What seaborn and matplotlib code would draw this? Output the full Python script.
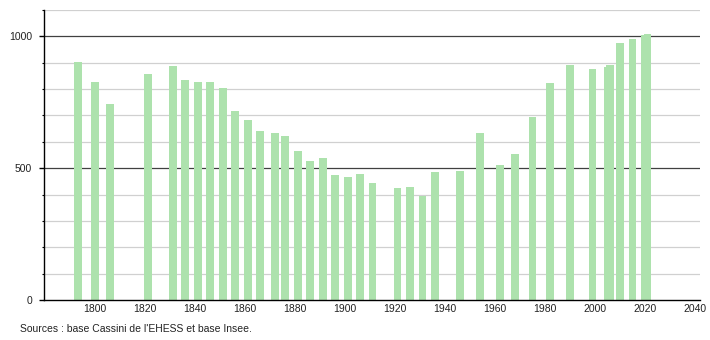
import matplotlib
matplotlib.use("Agg")
import matplotlib.pyplot as plt
from matplotlib.ticker import MultipleLocator, FixedLocator
import seaborn as sns
import pandas as pd

years = [1793, 1800, 1806, 1821, 1831, 1836, 1841, 1846, 1851, 1856,
         1861, 1866, 1872, 1876, 1881, 1886, 1891, 1896, 1901, 1906,
         1911, 1921, 1926, 1931, 1936, 1946, 1954, 1962, 1968, 1975,
         1982, 1990, 1999, 2005, 2006, 2010, 2015, 2020, 2021]
population = [901, 826, 742, 856, 886, 834, 827, 827, 804, 717,
              682, 642, 632, 622, 565, 529, 537, 473, 468, 478,
              444, 426, 428, 393, 487, 491, 632, 511, 552, 693,
              825, 891, 876, 884, 892, 976, 991, 1004, 1008]
y_major = [0, 500, 1000]
x_ticks = [1800, 1820, 1840, 1860, 1880, 1900, 1920, 1940, 1960, 1980, 2000, 2020, 2040]
source_text = "Sources : base Cassini de l'EHESS et base Insee."

df = pd.DataFrame({"year": years, "population": population})

sns.set_theme(style="white")
plt.rcParams["font.family"] = ["Liberation Sans", "DejaVu Sans"]

fig = plt.figure(figsize=(7.1, 3.4), dpi=100)
ax = fig.add_axes([44 / 710, 40 / 340, 656 / 710, 290 / 340])

bar_color = "#ade2ad"
sns.barplot(data=df, x="year", y="population", native_scale=True, width=3.1,
            color=bar_color, saturation=1, linewidth=0, errorbar=None, ax=ax, zorder=2)

# gridlines
for v in range(100, 1101, 100):
    if v in (500, 1000):
        ax.axhline(v, color="#404040", lw=0.9, zorder=1)
    else:
        ax.axhline(v, color="#d0d0d0", lw=0.9, zorder=1)

ax.set_xlim(1779.5, 2042)
ax.set_ylim(0, 1100)

ax.yaxis.set_major_locator(FixedLocator(y_major))
ax.yaxis.set_minor_locator(MultipleLocator(100))
ax.set_yticklabels([str(v) for v in y_major])
ax.xaxis.set_major_locator(FixedLocator(x_ticks))
ax.set_xticklabels([str(v) for v in x_ticks])

ax.tick_params(axis="y", which="major", length=3.6, width=1, color="black",
               pad=5, labelsize=7.5, labelcolor="#222222", left=True)
ax.tick_params(axis="y", which="minor", length=1.6, width=0.8, color="black", left=True)
ax.tick_params(axis="x", which="major", length=0, pad=3, labelsize=7.5,
               labelcolor="#222222", bottom=True)

for side in ("top", "right"):
    ax.spines[side].set_visible(False)
for side in ("left", "bottom"):
    ax.spines[side].set_visible(True)
    ax.spines[side].set_color("black")
    ax.spines[side].set_linewidth(1.0)
    ax.spines[side].set_zorder(3)

ax.set_xlabel("")
ax.set_ylabel("")

fig.text(20 / 710, 1 - 329 / 340, source_text, fontsize=7.5, color="#222222",
         ha="left", va="center")

fig.savefig("out.png", dpi=100)
